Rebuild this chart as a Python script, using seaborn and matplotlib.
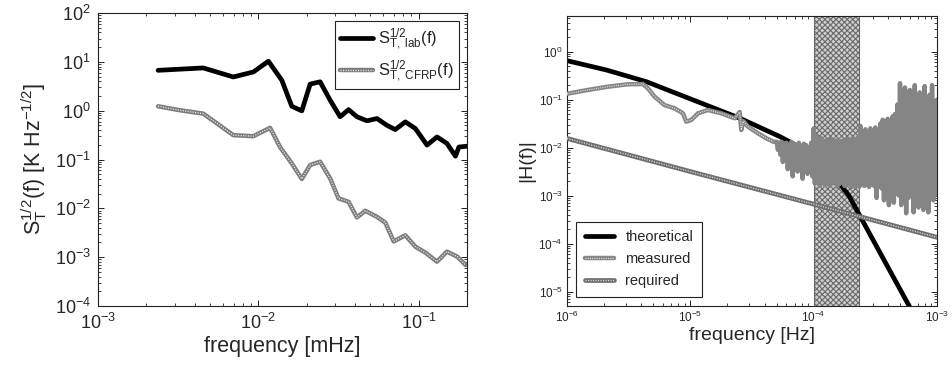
import numpy as np
import pandas as pd
import matplotlib
matplotlib.use("Agg")
import matplotlib.pyplot as plt
import seaborn as sns

# ---------------- data (left panel) ----------------
lab_f = [2.37e-3, 4.53e-3, 6.98e-3, 9.31e-3, 0.01155, 0.0140, 0.01616, 0.01866, 0.02104,
         0.02427, 0.02803, 0.03236, 0.0365, 0.0412, 0.0476, 0.0549, 0.0634, 0.0714,
         0.0825, 0.0953, 0.1127, 0.130, 0.150, 0.1695, 0.178, 0.200]
lab_s = [6.7, 7.5, 4.9, 6.2, 10.3, 4.2, 1.23, 0.99, 3.5, 3.9, 1.64, 0.75, 1.05, 0.75,
         0.62, 0.69, 0.50, 0.41, 0.59, 0.43, 0.197, 0.29, 0.213, 0.117, 0.18, 0.187]

cfrp_f = [2.37e-3, 3.24e-3, 4.53e-3, 6.98e-3, 9.31e-3, 0.01183, 0.01365, 0.01616, 0.01866,
          0.02104, 0.02427, 0.02803, 0.0316, 0.0365, 0.0412, 0.0464, 0.0549, 0.0619,
          0.0698, 0.0825, 0.0953, 0.110, 0.130, 0.150, 0.174, 0.196]
cfrp_s = [1.23, 1.02, 0.87, 0.315, 0.30, 0.445, 0.18, 0.083, 0.040, 0.077, 0.090, 0.041,
          0.016, 0.0136, 0.0065, 0.0089, 0.0067, 0.0051, 0.0021, 0.0028, 0.00164,
          0.00124, 0.00081, 0.0013, 0.00102, 0.00069]

# ---------------- data (right panel), log10 values ----------------
theo_logf = [-6.0, -5.68, -5.355, -4.976, -4.597, -4.272, -4.0, -3.83, -3.717, -3.474, -3.23, -3.15]
theo_logh = [-0.19, -0.385, -0.629, -1.01, -1.391, -1.774, -2.15, -2.62, -2.99, -4.135, -5.28, -5.66]

req_logf = [-6.0, -5.0, -4.0, -3.0]
req_logh = [-1.81, -2.50, -3.18, -3.87]

meas_smooth_logf = [-6.0, -5.83, -5.67, -5.51, -5.385, -5.344, -5.29, -5.21, -5.128, -5.06,
                    -5.033, -4.993, -4.938, -4.857, -4.749, -4.64, -4.60, -4.587, -4.57,
                    -4.532, -4.451, -4.383, -4.327]
meas_smooth_logh = [-0.88, -0.80, -0.733, -0.683, -0.677, -0.766, -0.94, -1.114, -1.183, -1.287,
                    -1.46, -1.427, -1.287, -1.218, -1.287, -1.39, -1.26, -1.635, -1.45,
                    -1.566, -1.704, -1.808, -1.878]

# dense (noisy) part: per frequency bin, an upper and a lower excursion
dense_start, dense_stop = -4.30, -3.00
dense_hi = [-1.88, -1.90, -1.88, -1.92, -1.90, -1.95, -1.88, -1.92, -1.95, -1.90, -1.98, -1.92, -1.95, -2.00, -1.90,
            -1.60, -1.75, -1.85, -1.80, -1.90, -1.85, -1.88, -1.82, -1.90, -1.86, -1.84, -1.88, -1.85, -1.90, -1.82, -1.86, -1.80, -1.84, -1.78,
            -1.55, -1.70, -1.62, -1.75, -1.60, -1.68, -1.58, -1.65, -1.50,
            -1.42, -1.48, -1.40, -1.45, -1.35, -1.30,
            -1.10, -0.66, -1.05, -0.75, -1.08, -0.80, -1.02, -0.70, -1.10, -0.85, -1.00, -0.72, -1.05, -0.90, -0.70, -1.05, -1.00]
dense_lo = [-2.05, -2.15, -2.30, -2.20, -2.45, -2.25, -2.60, -2.35, -2.50, -2.30, -2.65, -2.40, -2.55, -2.35, -2.60,
            -2.75, -2.65, -2.80, -2.70, -2.78, -2.72, -2.80, -2.75, -2.70, -2.82, -2.76, -2.72, -2.80, -2.78, -2.74, -2.82, -2.78, -2.80, -2.82,
            -2.75, -2.80, -2.78, -2.82, -2.76, -2.80, -3.05, -2.80, -2.85,
            -3.10, -2.90, -3.20, -2.95, -3.15, -2.95,
            -3.00, -3.20, -2.95, -3.37, -3.05, -2.98, -3.35, -3.00, -3.25, -2.95, -3.30, -3.05, -3.35, -2.98, -3.10, -2.95, -3.00]

band_lo, band_hi = 1.0e-4, 2.31e-4

# ---------------- build tables ----------------
df_lab = pd.DataFrame({"f": lab_f, "s": lab_s})
df_cfrp = pd.DataFrame({"f": cfrp_f, "s": cfrp_s})
df_theo = pd.DataFrame({"f": 10 ** np.array(theo_logf), "h": 10 ** np.array(theo_logh)})
df_req = pd.DataFrame({"f": 10 ** np.array(req_logf), "h": 10 ** np.array(req_logh)})
bins = np.linspace(dense_start, dense_stop, len(dense_hi))
half = (bins[1] - bins[0]) / 2
dense_x = np.column_stack([bins, bins + half]).ravel()
dense_y = np.column_stack([dense_hi, dense_lo]).ravel()
meas_x = np.concatenate([meas_smooth_logf, dense_x])
meas_y = np.concatenate([meas_smooth_logh, dense_y])
df_meas = pd.DataFrame({"f": 10 ** meas_x, "h": 10 ** meas_y})
df_meas_smooth = pd.DataFrame({"f": 10 ** np.array(meas_smooth_logf), "h": 10 ** np.array(meas_smooth_logh)})

# ---------------- style ----------------
sns.set_style("white")
plt.rcParams["font.family"] = ["Liberation Sans", "DejaVu Sans"]
plt.rcParams["mathtext.fontset"] = "custom"
plt.rcParams["mathtext.rm"] = "Liberation Sans"
plt.rcParams["mathtext.it"] = "Liberation Sans:italic"
plt.rcParams["mathtext.bf"] = "Liberation Sans:bold"
plt.rcParams["mathtext.default"] = "regular"
plt.rcParams["hatch.linewidth"] = 0.8

fig = plt.figure(figsize=(9.53, 3.70), dpi=100)
ax1 = fig.add_axes([98 / 953, 1 - 306 / 370, 369 / 953, 293 / 370])
ax2 = fig.add_axes([567 / 953, 1 - 306 / 370, 370 / 953, 290 / 370])

for ax in (ax1, ax2):
    ax.set_xscale("log")
    ax.set_yscale("log")
    for sp in ax.spines.values():
        sp.set_color("#222222")
        sp.set_linewidth(0.8)
        sp.set_visible(True)
    ax.tick_params(which="both", direction="in", top=True, right=True, bottom=True, left=True,
                   color="#222222")
    ax.tick_params(which="major", length=4, width=0.7)
    ax.tick_params(which="minor", length=2, width=0.6)

tex_ls = (0, (0.8, 1.0))

# ---------- left panel ----------
sns.lineplot(data=df_lab, x="f", y="s", ax=ax1, color="black", lw=3.4, sort=False)
sns.lineplot(data=df_cfrp, x="f", y="s", ax=ax1, color="#7c7c7c", lw=3.2, sort=False)
sns.lineplot(data=df_cfrp, x="f", y="s", ax=ax1, color="#e8e8e8", lw=1.0, linestyle=tex_ls, sort=False)
lines = ax1.get_lines()
ax1.set_xlim(1e-3, 0.2)
ax1.set_ylim(1e-4, 1e2)
ax1.set_xticks([1e-3, 1e-2, 1e-1])
ax1.set_yticks([1e-4, 1e-3, 1e-2, 1e-1, 1e0, 1e1, 1e2])
ax1.tick_params(labelsize=13, pad=5)
ax1.set_xlabel("frequency [mHz]", fontsize=15.5, labelpad=2)
ax1.set_ylabel(r"$S_T^{1/2}(f)$ [K Hz$^{-1/2}$]", fontsize=15.5, labelpad=4)
leg1 = ax1.legend([lines[0], (lines[1], lines[2])],
                  [r"$S^{1/2}_{T,\ lab}(f)$", r"$S^{1/2}_{T,\ CFRP}(f)$"],
                  loc="upper right", fontsize=12, frameon=True, fancybox=False,
                  edgecolor="#222222", framealpha=1, handlelength=2.0,
                  borderaxespad=0.5, labelspacing=0.35, handletextpad=0.3, borderpad=0.3)
leg1.get_frame().set_linewidth(0.8)

# ---------- right panel ----------
ax2.axvspan(band_lo, band_hi, facecolor="#cfcfcf", edgecolor="#6a6a6a", hatch="xxxxxx",
            lw=0.8, zorder=1)
sns.lineplot(data=df_theo, x="f", y="h", ax=ax2, color="black", lw=3.4, sort=False, zorder=2)
sns.lineplot(data=df_meas, x="f", y="h", ax=ax2, color="#858585", lw=3.2, sort=False, zorder=3)
sns.lineplot(data=df_meas_smooth, x="f", y="h", ax=ax2, color="#e6e6e6", lw=0.9, linestyle=tex_ls,
             sort=False, zorder=3)
sns.lineplot(data=df_req, x="f", y="h", ax=ax2, color="#6e6e6e", lw=3.4, sort=False, zorder=4)
sns.lineplot(data=df_req, x="f", y="h", ax=ax2, color="#d8d8d8", lw=1.0, linestyle=tex_ls, sort=False, zorder=4)
l2 = ax2.get_lines()
ax2.set_xlim(1e-6, 1e-3)
ax2.set_ylim(5e-6, 5.5)
ax2.set_xticks([1e-6, 1e-5, 1e-4, 1e-3])
ax2.set_yticks([1e-5, 1e-4, 1e-3, 1e-2, 1e-1, 1e0])
ax2.tick_params(labelsize=8.5, pad=3)
ax2.set_xlabel("frequency [Hz]", fontsize=14, labelpad=1)
ax2.set_ylabel("|H(f)|", fontsize=14, labelpad=2)
leg2 = ax2.legend([l2[0], (l2[1], l2[2]), (l2[3], l2[4])],
                  ["theoretical", "measured", "required"],
                  loc="lower left", fontsize=10.5, frameon=True, fancybox=False,
                  edgecolor="#222222", framealpha=1, handlelength=2.0,
                  borderaxespad=0.6, labelspacing=0.55, handletextpad=0.8, borderpad=0.6)
leg2.get_frame().set_linewidth(0.8)

fig.savefig("out.png", dpi=100)
